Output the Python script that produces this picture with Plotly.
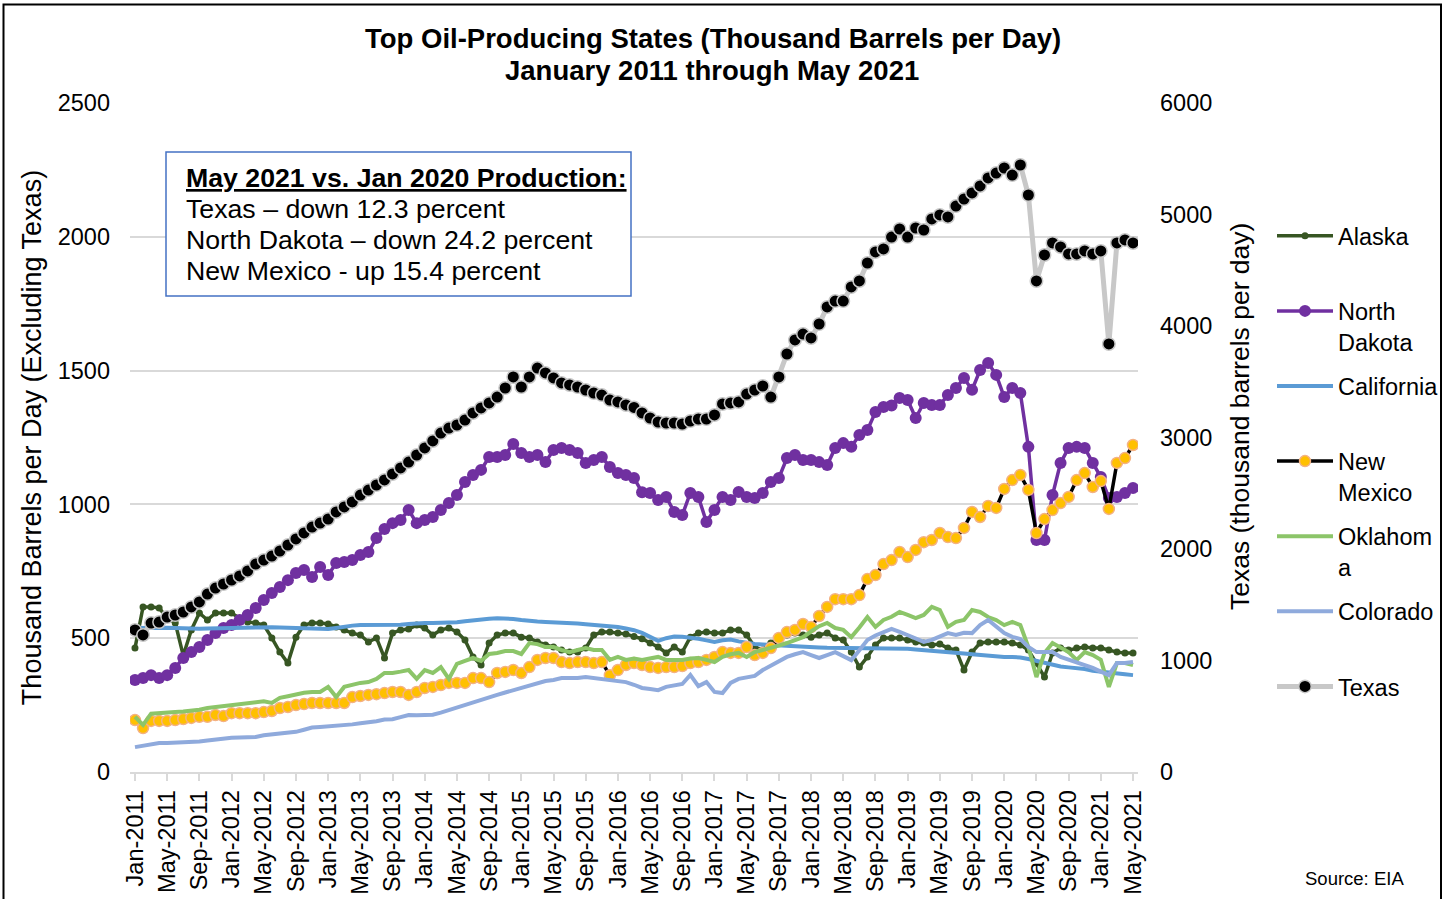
import pandas as pd
import plotly.graph_objects as go

months = pd.date_range("2011-01-01", periods=125, freq="MS").strftime("%b-%Y").tolist()
tick_labels = months[::4]

texas = [1274,1229,1336,1345,1390,1408,1435,1480,1525,1596,1650,1686,1722,1758,1803,1865,1901,1937,1982,2036,2090,2144,2197,2233,2269,2332,2377,2422,2484,2529,2574,2619,
         2673,2727,2780,2843,2906,2969,3040,3085,3112,3157,3220,3265,3310,3363,3444,3543,3453,3543,3623,
         3579,3534,3489,3471,3453,3426,3399,3381,3336,3319,3292,3270,
         3220,3175,3139,3130,3130,3121,3148,3166,3166,3202,3301,3310,3319,3390,3426,3462,3363,3543,3749,3875,
         3928,3893,4018,4171,4224,4224,4350,4404,4565,4664,4691,4798,4870,
         4798,4879,4861,4960,4996,4978,5076,5139,5193,5256,5328,5372,5417,5354,5444,5175,4404,4637,4745,4709,
         4646,4646,4673,4646,4673,3839,4745,4772,4745]

north_dakota = [344,351,362,351,362,389,426,448,467,493,519,538,549,568,587,613,643,669,691,717,744,755,729,766,736,781,785,792,811,822,874,908,
                930,942,979,930,942,953,979,1005,1035,1084,1110,1129,1177,1177,1185,1226,1192,1177,1185,1158,1203,1211,1203,1192,1155,1166,1177,1140,1117,1110,1099,1045,
                1043,1016,1028,972,960,1043,1028,934,979,1028,1016,1046,1028,1024,1043,1084,1099,1173,1185,1166,1166,1158,1147,1211,1229,1215,1259,1278,1345,1364,
                1370,1398,1390,1323,1379,1371,1371,1409,1435,1472,1428,1502,1528,1484,1401,1435,1416,1215,867,867,
                1035,1155,1211,1215,1211,1155,1102,1024,1028,1043,1061]

new_mexico = [194,164,191,191,191,194,198,202,206,206,213,209,220,220,220,220,224,228,239,243,250,254,258,258,258,258,258,280,284,288,291,295,
              299,299,288,299,314,318,325,333,333,333,351,351,336,370,374,381,370,392,419,426,426,411,407,411,411,407,411,362,381,400,407,
              400,392,389,392,392,396,407,411,419,430,448,445,445,467,437,445,463,501,523,531,553,542,583,617,646,646,646,661,721,736,777,
              792,822,803,830,859,867,893,878,874,912,972,953,994,987,1058,1091,1110,1054,893,945,979,1005,1028,1091,1117,1065,1087,983,1155,1173,1222]

alaska = [463,617,617,613,575,557,435,531,594,568,594,594,594,575,561,557,549,501,448,407,504,549,557,557,553,542,531,519,512,486,501,426,
          519,531,534,549,538,512,531,538,523,493,430,400,482,512,519,519,504,501,486,475,467,456,448,448,463,512,523,523,519,516,506,498,
          482,467,445,467,448,504,519,523,519,519,531,531,512,467,456,482,501,512,519,512,504,512,519,501,493,448,392,430,475,501,
          501,501,493,486,482,475,478,463,456,381,448,482,486,486,486,482,475,456,407,355,445,463,456,463,467,463,463,456,448,445,445]

california = [538,539,540,540,539,538,536,535,535,536,537,538,
              539,540,541,542,542,541,540,539,537,535,533,532,
              534,538,543,547,549,549,548,547,
              548,550,553,556,557,557,557,558,560,563,567,571,573,575,574,572,568,564,562,561,560,559,557,555,552,550,548,545,542,536,530,
              520,505,490,500,506,505,503,498,492,486,492,495,488,482,478,476,474,472,470,468,467,466,465,464,464,463,463,463,463,463,463,462,
              462,461,458,456,454,452,449,446,443,440,437,434,431,430,430,428,422,415,407,400,394,391,389,385,378,374,371,368,365,362]

oklahoma = [206,176,218,221,221,224,226,228,233,239,243,247,250,254,258,262,264,258,277,283,290,296,299,299,318,280,318,325,333,336,348,370,
            370,375,381,348,381,370,392,348,404,415,426,415,441,445,452,452,441,482,478,467,467,456,448,456,463,456,456,419,430,419,424,
            419,425,430,419,419,419,424,426,419,411,430,440,445,430,448,456,462,472,482,493,504,525,545,557,538,531,504,540,579,542,568,
            580,598,587,575,587,617,605,542,561,568,605,598,579,568,549,561,549,467,355,445,482,463,448,419,448,437,419,318,407,407,400]

colorado = [93,98,103,108,108,109,110,112,114,118,122,127,128,129,130,131,137,140,143,147,150,158,166,168,170,174,176,178,182,185,190,196,
            197,205,213,212,213,214,222,232,241,250,259,269,279,288,297,306,316,325,334,340,344,351,351,351,355,351,347,344,340,336,326,
            314,310,306,318,322,329,363,321,336,299,295,333,348,355,359,381,396,411,430,440,448,437,426,437,448,433,418,455,493,510,523,
            535,524,512,500,486,494,508,519,512,520,519,549,568,542,519,505,497,467,448,448,448,430,420,407,400,389,375,362,407,407,411]

box_lines = ["<b><u>May 2021 vs. Jan 2020 Production:</u></b>",
             "Texas – down 12.3 percent",
             "North Dakota – down 24.2 percent",
             "New Mexico - up 15.4 percent"]

FONT = "Liberation Sans, Arial, sans-serif"

# plot-area pixel geometry (screen)
PL, PR, PT, PB = 130, 1138, 103, 772
PW, PH = PR - PL, PB - PT


def px(x):
    return (x - PL) / PW


def py(y):
    return (PB - y) / PH


fig = go.Figure()

fig.add_trace(go.Scatter(x=months, y=alaska, name="Alaska<br> ", mode="lines+markers",
                         line=dict(color="#375623", width=3.5), marker=dict(size=7, color="#375623"),
                         legendgroup="a"))
fig.add_trace(go.Scatter(x=months, y=north_dakota, name="North<br>Dakota", mode="lines+markers",
                         line=dict(color="#7030A0", width=3.5), marker=dict(size=12, color="#7030A0"),
                         legendgroup="b"))
fig.add_trace(go.Scatter(x=months, y=california, name="California<br> ", mode="lines",
                         line=dict(color="#5B9BD5", width=4), legendgroup="c"))
fig.add_trace(go.Scatter(x=months, y=new_mexico, name="New<br>Mexico", mode="lines+markers",
                         line=dict(color="#000000", width=3.5),
                         marker=dict(size=11, color="#FFC000", line=dict(color="#F4B183", width=1.5)),
                         legendgroup="d"))
fig.add_trace(go.Scatter(x=months, y=oklahoma, name="Oklahom<br>a", mode="lines",
                         line=dict(color="#8CC569", width=4), legendgroup="e"))
fig.add_trace(go.Scatter(x=months, y=colorado, name="Colorado<br> ", mode="lines",
                         line=dict(color="#8FAADC", width=4), legendgroup="f"))
fig.add_trace(go.Scatter(x=months, y=texas, name="Texas<br> ", mode="lines+markers", yaxis="y2",
                         line=dict(color="#C8C8C8", width=5),
                         marker=dict(size=12.5, color="#000000", line=dict(color="#C8C8C8", width=1.5)),
                         legendgroup="g"))

fig.update_layout(
    width=1450, height=899,
    paper_bgcolor="white", plot_bgcolor="white",
    margin=dict(l=PL, r=1450 - PR, t=PT, b=899 - PB, autoexpand=False),
    font=dict(family=FONT, size=24, color="#000000"),
    showlegend=True,
    legend=dict(x=px(1272), y=py(214), xanchor="left", yanchor="top",
                font=dict(family=FONT, size=23.5, color="#000000"),
                traceorder="grouped", tracegroupgap=11, valign="top",
                itemwidth=56, bgcolor="rgba(0,0,0,0)"),
    xaxis=dict(type="category", range=[-0.62, 124.62], tickmode="array",
               tickvals=tick_labels, ticktext=tick_labels, tickangle=-90,
               tickfont=dict(family=FONT, size=23.5, color="#000000"),
               showgrid=False, showline=True, linecolor="#D9D9D9", linewidth=1.5,
               ticks="outside", ticklen=7, tickcolor="#D9D9D9", tickwidth=1.5,
               zeroline=False, automargin=False),
    yaxis=dict(range=[0, 2500], dtick=500, showgrid=True, gridcolor="#D9D9D9", gridwidth=1.5,
               zeroline=False, ticks="", ticklabelstandoff=19,
               tickfont=dict(family=FONT, size=23.5), automargin=False,
               title=dict(text="Thousand Barrels per Day (Excluding Texas)",
                          font=dict(family=FONT, size=27), standoff=8)),
    yaxis2=dict(range=[0, 6000], dtick=1000, overlaying="y", side="right", showgrid=False,
                zeroline=False, ticks="", ticklabelstandoff=21,
                tickfont=dict(family=FONT, size=23.5), automargin=False),
)

# right axis title (sits slightly above the plot centre, as in the reference)
fig.add_annotation(xref="paper", yref="paper", x=px(1240), y=py(417), xanchor="center", yanchor="middle",
                   textangle=-90, showarrow=False, text="Texas (thousand barrels per day)",
                   font=dict(family=FONT, size=26.5, color="#000000"))

# chart title (two centered bold lines)
fig.add_annotation(xref="paper", yref="paper", x=px(713), y=py(38), xanchor="center", yanchor="middle",
                   showarrow=False, text="<b>Top Oil-Producing States (Thousand Barrels per Day)</b>",
                   font=dict(family=FONT, size=27.5, color="#000000"))
fig.add_annotation(xref="paper", yref="paper", x=px(712), y=py(71), xanchor="center", yanchor="middle",
                   showarrow=False, text="<b>January 2011 through May 2021</b>",
                   font=dict(family=FONT, size=27.5, color="#000000"))

# text box
fig.add_shape(type="rect", xref="paper", yref="paper",
              x0=px(166), x1=px(631), y0=py(296), y1=py(152),
              line=dict(color="#4472C4", width=1.5), fillcolor="white", layer="above")
for i, line in enumerate(box_lines):
    fig.add_annotation(xref="paper", yref="paper", x=px(184), y=py(178 + 31 * i),
                       xanchor="left", yanchor="middle", align="left", showarrow=False,
                       text=line, font=dict(family=FONT, size=26.7, color="#000000"))

# source
fig.add_annotation(xref="paper", yref="paper", x=px(1406), y=py(878),
                   xanchor="right", yanchor="middle", showarrow=False,
                   text="Source: EIA", font=dict(family=FONT, size=18.5, color="#000000"))

# outer frame
fig.add_shape(type="rect", xref="paper", yref="paper",
              x0=px(3.5), x1=px(1441), y0=py(905), y1=py(4.5),
              line=dict(color="#000000", width=2), fillcolor="rgba(0,0,0,0)", layer="above")

fig.write_html("out.html", config={"displayModeBar": False},
               post_script="document.body.style.margin='0px';document.body.style.overflow='hidden';")
